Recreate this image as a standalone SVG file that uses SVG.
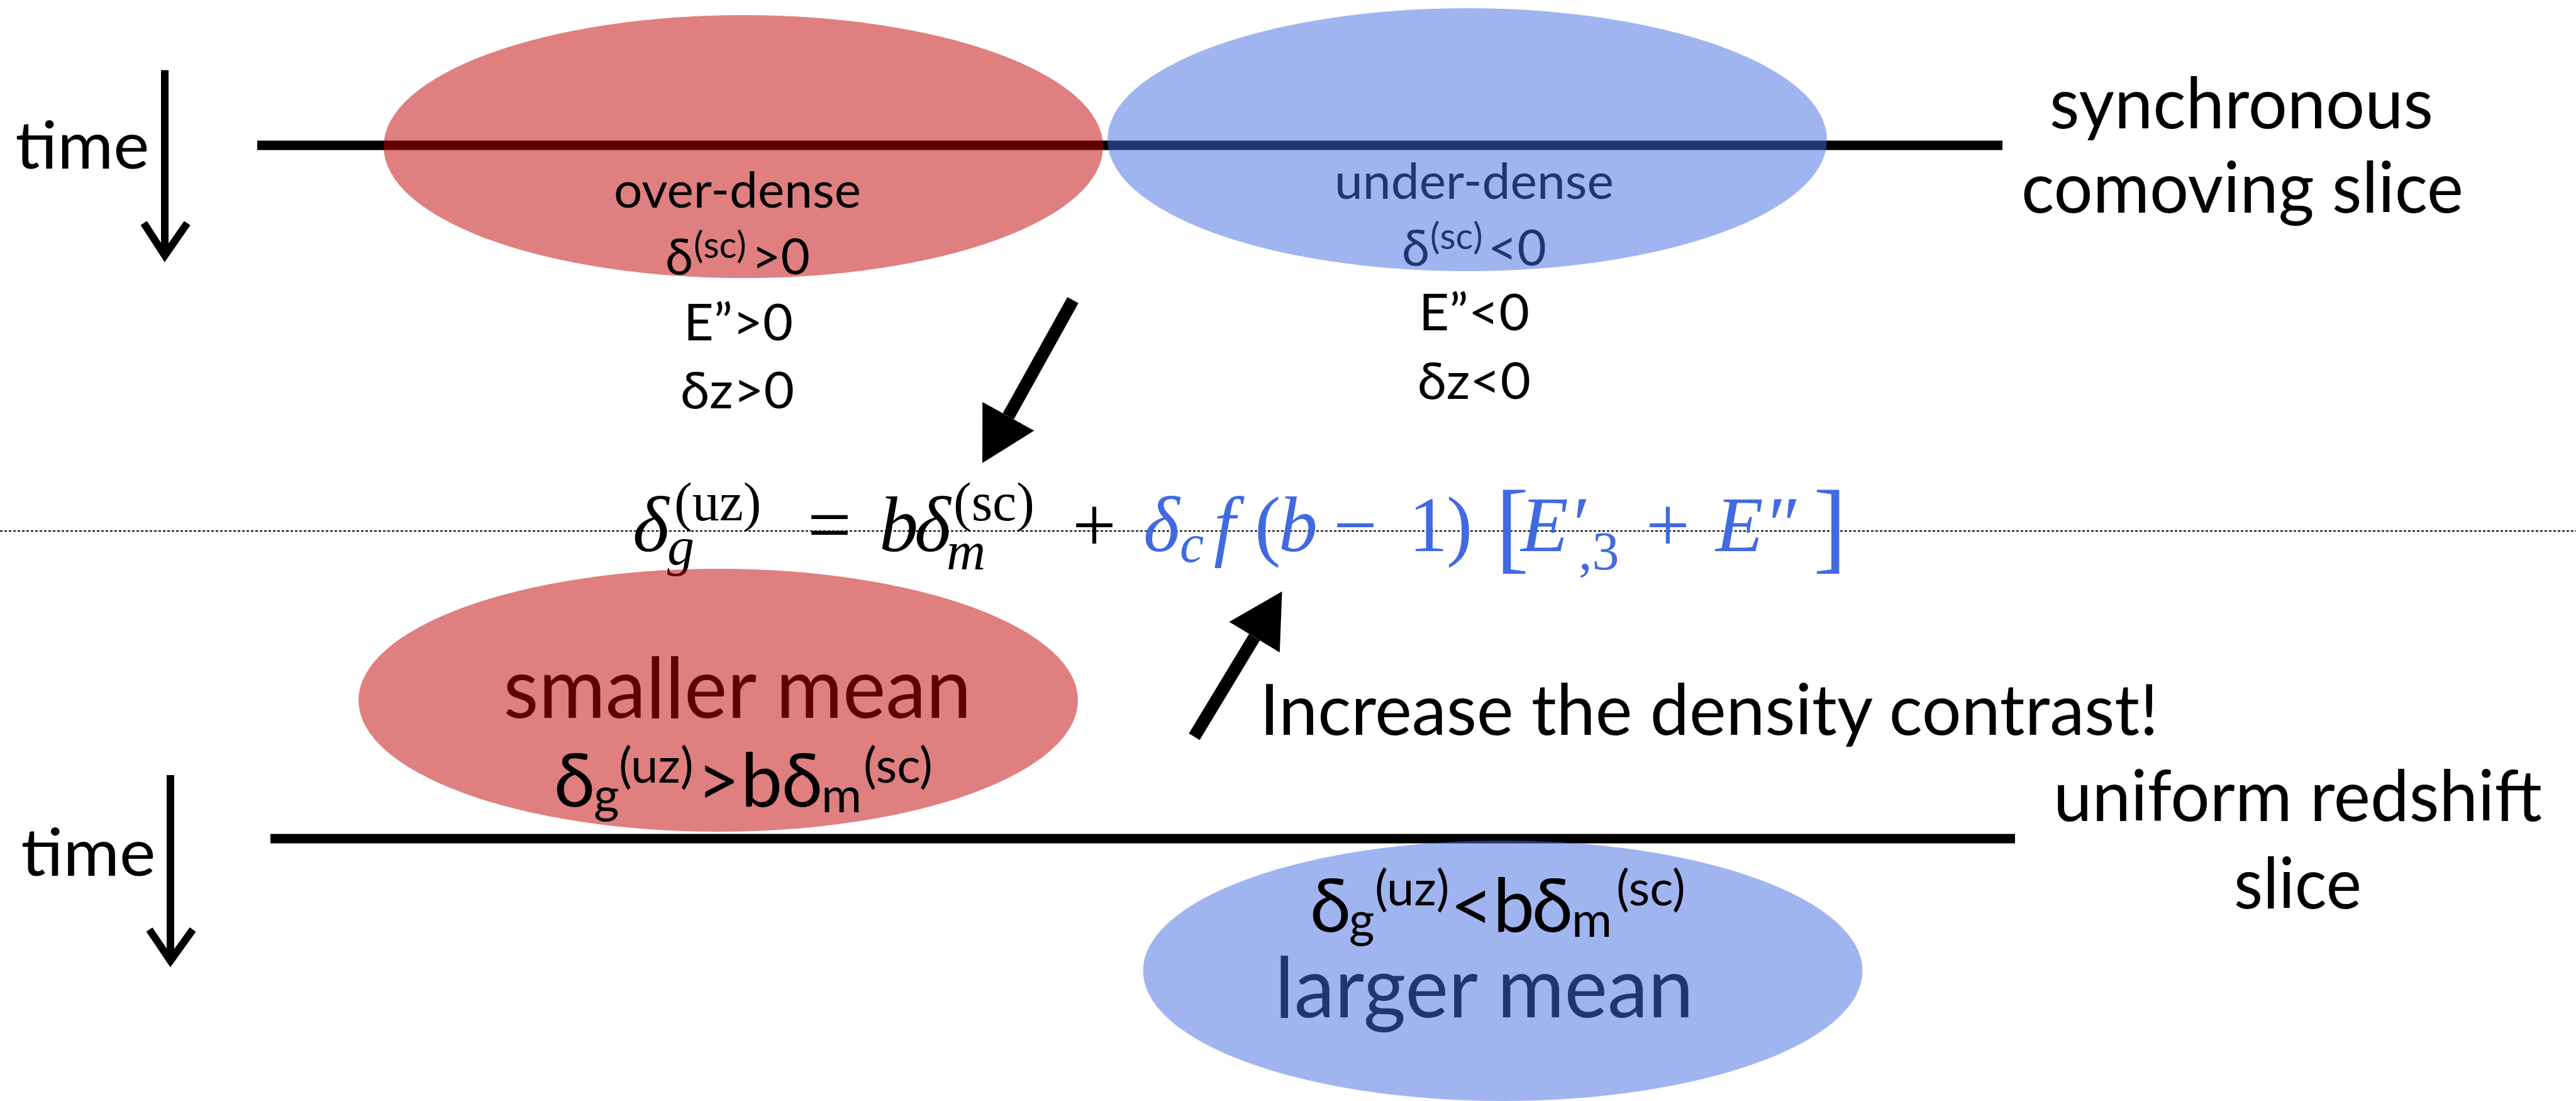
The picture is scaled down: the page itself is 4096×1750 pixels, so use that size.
<svg xmlns="http://www.w3.org/2000/svg" width="4096" height="1750" viewBox="0 0 4096 1750">
<style>
.bg{fill:#ffffff}
.slice{stroke:#000;stroke-width:15;fill:none}
.dots{stroke:#000;stroke-width:2;stroke-dasharray:4 3;fill:none}
.red{fill:#C00000;fill-opacity:0.5}
.blue{fill:#4169E1;fill-opacity:0.5}
.lbl{font-family:Lato,"Open Sans","Liberation Sans",sans-serif;fill:#000}
.m{font-family:"Liberation Serif","DejaVu Serif",serif;fill:#000}
.mb{font-family:"Liberation Serif","DejaVu Serif",serif;fill:#4169E1}
.i{font-style:italic}
.time{stroke:#000;stroke-width:12;fill:none;stroke-linejoin:miter}
.thick{stroke:#000;stroke-width:20;fill:none}
</style>
<defs>
<marker id="head" markerUnits="userSpaceOnUse" markerWidth="90" markerHeight="100" viewBox="0 0 90 100" refX="0" refY="47" orient="auto">
<path d="M0,0 L85,47 L0,94 z" fill="#000"/>
</marker>
</defs>
<rect class="bg" x="0" y="0" width="4096" height="1750"/>

<g id="slices">
<line class="slice" x1="409" y1="231" x2="3184" y2="231"/>
<line class="slice" x1="430" y1="1333" x2="3204" y2="1333"/>
<line class="dots" x1="0" y1="844" x2="4096" y2="844"/>
</g>

<g id="formula">
<text class="m" font-size="124">
<tspan x="1006" y="876" class="i">δ</tspan>
<tspan x="1061" y="897" class="i" font-size="86">g</tspan>
<tspan x="1072" y="827" font-size="86">(uz)</tspan>
<tspan x="1284" y="876">=</tspan>
<tspan x="1398" y="876" class="i">b</tspan>
<tspan x="1454" y="876" class="i">δ</tspan>
<tspan x="1516" y="827" font-size="86">(sc)</tspan>
<tspan x="1505" y="905" class="i" font-size="86">m</tspan>
<tspan x="1705" y="876">+</tspan>
</text>
<text class="mb" font-size="124">
<tspan x="1818" y="876" class="i">δ</tspan>
<tspan x="1876" y="893" class="i" font-size="86">c</tspan>
<tspan x="1930" y="876" class="i">f</tspan>
<tspan x="1995" y="876">(</tspan>
<tspan x="2033" y="876" class="i">b</tspan>
<tspan x="2120" y="876">−</tspan>
<tspan x="2240" y="876">1</tspan>
<tspan x="2300" y="876">)</tspan>
<tspan x="2378" y="890" font-size="160">[</tspan>
<tspan x="2418" y="876" class="i">E′</tspan>
<tspan x="2510" y="905" font-size="86">,3</tspan>
<tspan x="2617" y="876">+</tspan>
<tspan x="2728" y="876" class="i">E″</tspan>
<tspan x="2883" y="890" font-size="160">]</tspan>
</text>
</g>

<g id="node-time-top">
<text class="lbl" x="24.5" y="267.6" font-size="104" textLength="213" lengthAdjust="spacingAndGlyphs">time</text>
</g>
<g id="node-time-bottom">
<text class="lbl" x="33.5" y="1391.6" font-size="104" textLength="214" lengthAdjust="spacingAndGlyphs">time</text>
</g>

<g id="node-overdense">
<ellipse class="red" cx="1182" cy="233" rx="572" ry="209"/>
<text class="lbl" x="976" y="330" font-size="80" textLength="393" lengthAdjust="spacingAndGlyphs">over-dense</text>
<text class="lbl" font-size="80"><tspan x="1058" y="436">δ</tspan><tspan x="1103" y="410" font-size="58">(sc)</tspan><tspan x="1195" y="436">&gt;0</tspan></text>
<text class="lbl" x="1087" y="541" font-size="82" textLength="174" lengthAdjust="spacingAndGlyphs">E”&gt;0</text>
<text class="lbl" x="1082" y="649" font-size="82" textLength="181" lengthAdjust="spacingAndGlyphs">δz&gt;0</text>
</g>

<g id="node-underdense">
<text class="lbl" x="2122" y="316" font-size="80" textLength="444" lengthAdjust="spacingAndGlyphs">under-dense</text>
<text class="lbl" font-size="80"><tspan x="2229" y="422">δ</tspan><tspan x="2274" y="396" font-size="58">(sc)</tspan><tspan x="2366" y="422">&lt;0</tspan></text>
<ellipse class="blue" cx="2333" cy="222" rx="572" ry="209"/>
<text class="lbl" x="2256" y="525" font-size="82" textLength="176" lengthAdjust="spacingAndGlyphs">E”&lt;0</text>
<text class="lbl" x="2254" y="634" font-size="82" textLength="180" lengthAdjust="spacingAndGlyphs">δz&lt;0</text>
</g>

<g id="node-synchronous">
<text class="lbl" x="3259" y="204" font-size="112" textLength="610" lengthAdjust="spacingAndGlyphs">synchronous</text>
<text class="lbl" x="3214" y="338" font-size="112" textLength="703" lengthAdjust="spacingAndGlyphs">comoving slice</text>
</g>

<g id="node-smaller">
<text class="lbl" x="800.6" y="1141" font-size="134" textLength="744" lengthAdjust="spacingAndGlyphs">smaller mean</text>
<ellipse class="red" cx="1142" cy="1113" rx="572" ry="209"/>
<text class="lbl" font-size="118">
<tspan x="881" y="1282">δ</tspan><tspan x="944" y="1291" font-size="78">g</tspan><tspan x="984" y="1244" font-size="78">(uz)</tspan><tspan x="1108" y="1282">&gt;</tspan><tspan x="1178" y="1282">b</tspan><tspan x="1243" y="1282">δ</tspan><tspan x="1306" y="1291" font-size="78">m</tspan><tspan x="1373" y="1244" font-size="78">(sc)</tspan>
</text>
</g>

<g id="node-increase">
<text class="lbl" x="2003" y="1167.5" font-size="112" textLength="1429" lengthAdjust="spacingAndGlyphs">Increase the density contrast!</text>
</g>

<g id="node-uniform">
<text class="lbl" x="3265" y="1305" font-size="112" textLength="777" lengthAdjust="spacingAndGlyphs">uniform redshift</text>
<text class="lbl" x="3552" y="1444" font-size="112" textLength="203" lengthAdjust="spacingAndGlyphs">slice</text>
</g>

<g id="node-larger">
<text class="lbl" x="2027" y="1617" font-size="134" textLength="666" lengthAdjust="spacingAndGlyphs">larger mean</text>
<ellipse class="blue" cx="2389.5" cy="1543" rx="572" ry="207"/>
<text class="lbl" font-size="118">
<tspan x="2083" y="1481">δ</tspan><tspan x="2145" y="1489" font-size="78">g</tspan><tspan x="2186" y="1439" font-size="78">(uz)</tspan><tspan x="2306" y="1481">&lt;</tspan><tspan x="2374" y="1481">b</tspan><tspan x="2436" y="1481">δ</tspan><tspan x="2499" y="1489" font-size="78">m</tspan><tspan x="2570" y="1439" font-size="78">(sc)</tspan>
</text>
</g>

<g id="connectors">
<path class="time" d="M262,111.5 V404"/>
<path class="time" d="M228.6,354.6 L262,406 L297.7,354.6"/>
<path class="time" d="M271,1232 V1525"/>
<path class="time" d="M237.5,1477.5 L271,1527 L306.6,1477.5"/>
<path class="thick" d="M1706,477 L1603.3,661.7" marker-end="url(#head)"/>
<path class="thick" d="M1899,1171 L1994.6,1012.8" marker-end="url(#head)"/>
</g>
</svg>
